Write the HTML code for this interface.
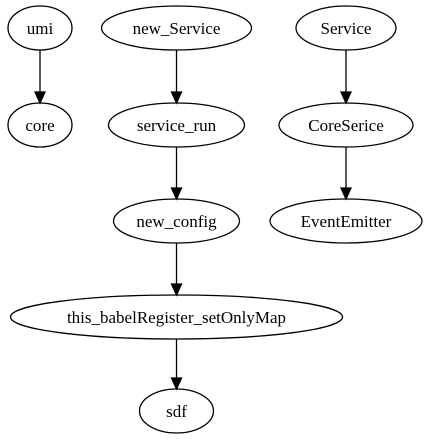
<!DOCTYPE html>
<html><head><style>html,body{margin:0;padding:0;background:#fff}</style></head>
<body>
<svg width="429" height="443" viewBox="0 0 429 443" xmlns="http://www.w3.org/2000/svg" font-family="Liberation Serif, serif" font-size="17">
<g fill="none" stroke="#000" stroke-width="1.3">
<ellipse cx="40" cy="28" rx="32" ry="22"/>
<ellipse cx="40" cy="125" rx="32" ry="22"/>
<ellipse cx="176.5" cy="28" rx="75" ry="22"/>
<ellipse cx="176.5" cy="125" rx="68" ry="22"/>
<ellipse cx="176.5" cy="221" rx="63" ry="22"/>
<ellipse cx="176.5" cy="317" rx="166" ry="22"/>
<ellipse cx="176.5" cy="411" rx="37" ry="22"/>
<ellipse cx="346" cy="28" rx="50" ry="22"/>
<ellipse cx="346" cy="125" rx="67" ry="22"/>
<ellipse cx="346" cy="221" rx="76" ry="22"/>
<line x1="40" y1="50" x2="40" y2="92"/>
<line x1="176.5" y1="50" x2="176.5" y2="92"/>
<line x1="176.5" y1="147" x2="176.5" y2="188"/>
<line x1="176.5" y1="243" x2="176.5" y2="284"/>
<line x1="176.5" y1="339" x2="176.5" y2="378"/>
<line x1="346" y1="50" x2="346" y2="92"/>
<line x1="346" y1="147" x2="346" y2="188"/>
</g>
<g fill="#000" stroke="#000" stroke-width="1.3">
<polygon points="35,92 45,92 40,103"/>
<polygon points="171.5,92 181.5,92 176.5,103"/>
<polygon points="171.5,188 181.5,188 176.5,199"/>
<polygon points="171.5,284 181.5,284 176.5,295"/>
<polygon points="171.5,378 181.5,378 176.5,389"/>
<polygon points="341,92 351,92 346,103"/>
<polygon points="341,188 351,188 346,199"/>
</g>
<g text-anchor="middle" fill="#000">
<text x="40" y="34">umi</text>
<text x="40" y="131">core</text>
<text x="176.5" y="34">new_Service</text>
<text x="176.5" y="131">service_run</text>
<text x="176.5" y="227">new_config</text>
<text x="176.5" y="323">this_babelRegister_setOnlyMap</text>
<text x="176.5" y="417">sdf</text>
<text x="346" y="34">Service</text>
<text x="346" y="131">CoreSerice</text>
<text x="346" y="227">EventEmitter</text>
</g>
</svg>
</body></html>
